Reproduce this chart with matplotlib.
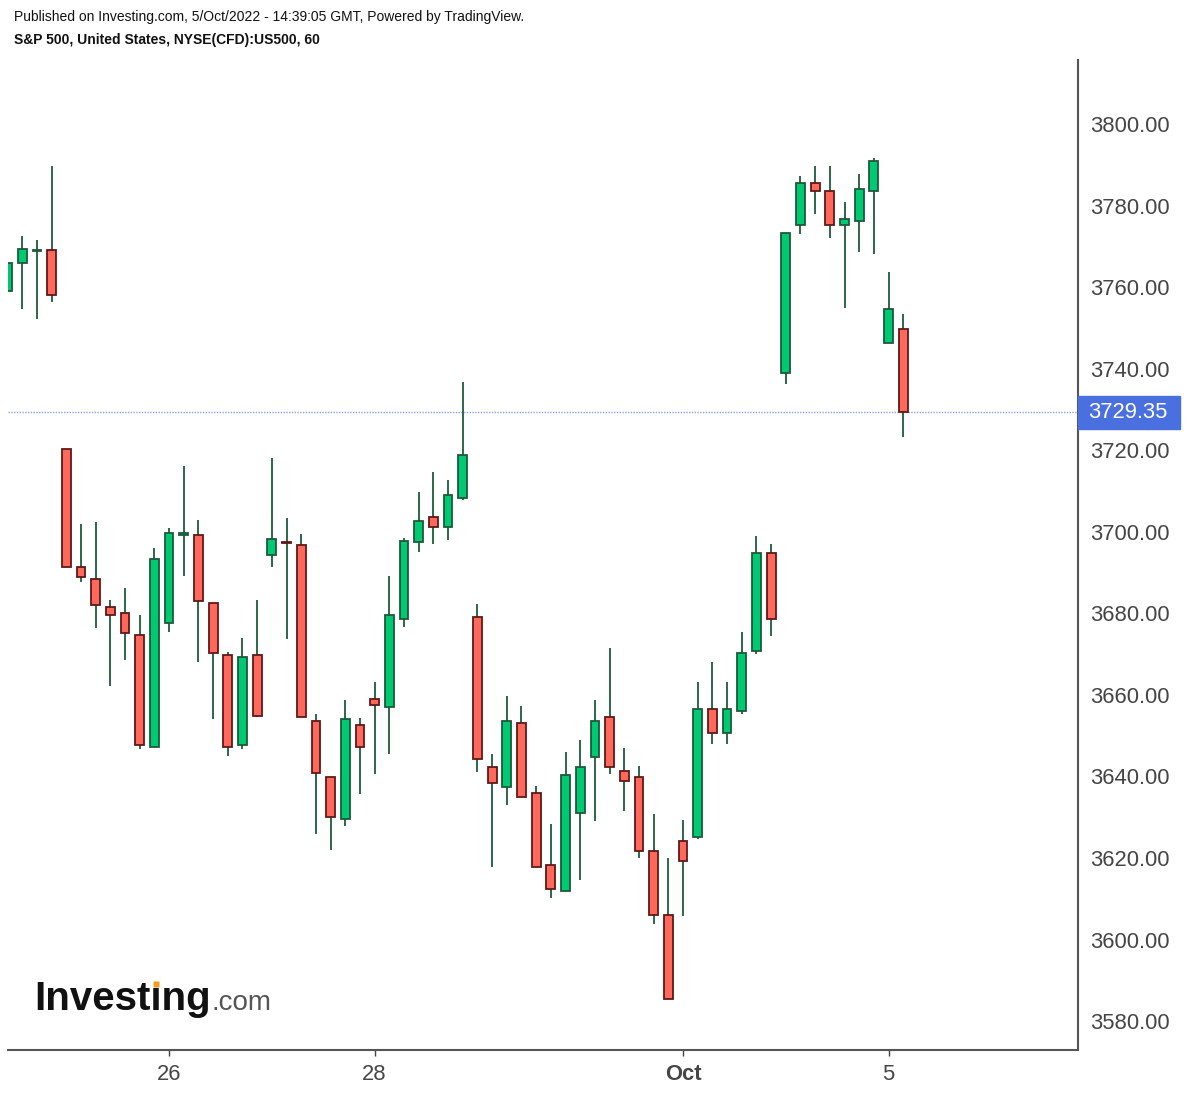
import numpy as np
import matplotlib
matplotlib.use('Agg')
import matplotlib.pyplot as plt
from matplotlib.patches import Rectangle
from matplotlib.lines import Line2D
import matplotlib.transforms as mtransforms

plt.rcParams['font.family'] = ['Liberation Sans', 'DejaVu Sans']

# hourly S&P 500 CFD bars, 22 Sep (last 4 bars) to 5 Oct 2022
opens = [3759.0, 3765.9, 3768.8, 3769.0,
         3720.4, 3691.4, 3688.5, 3681.6, 3680.1, 3674.7, 3647.3,
         3677.7, 3699.3, 3699.2, 3682.5, 3669.8, 3647.7, 3669.8,
         3694.2, 3697.4, 3696.8, 3653.6, 3639.9, 3629.5, 3652.7,
         3659.0, 3657.0, 3678.5, 3697.6, 3703.7, 3701.1, 3708.4,
         3679.2, 3642.4, 3637.4, 3653.2, 3636.0, 3618.3, 3611.9,
         3631.1, 3644.7, 3654.6, 3641.4, 3639.9, 3621.8, 3606.1,
         3624.2, 3625.1, 3656.6, 3650.7, 3656.0, 3670.7, 3694.9,
         3738.9, 3775.2, 3785.6, 3783.6, 3775.2, 3776.1, 3783.5,
         3746.4, 3749.8]
highs = [3766.0, 3772.5, 3771.5, 3789.7,
         3720.4, 3701.9, 3702.4, 3683.2, 3686.1, 3679.7, 3695.9,
         3700.8, 3716.1, 3702.9, 3682.5, 3670.5, 3673.9, 3683.3,
         3718.1, 3703.4, 3699.4, 3655.3, 3639.9, 3658.7, 3654.3,
         3663.1, 3689.1, 3698.5, 3709.7, 3714.6, 3712.7, 3736.7,
         3682.3, 3645.5, 3659.7, 3657.2, 3637.6, 3628.3, 3646.0,
         3648.9, 3658.7, 3671.5, 3646.9, 3642.5, 3630.8, 3620.0,
         3629.3, 3663.1, 3668.0, 3663.1, 3675.4, 3698.9, 3697.0,
         3773.3, 3787.2, 3789.7, 3789.7, 3780.9, 3787.7, 3791.7,
         3763.7, 3753.4]
lows = [3759.0, 3754.6, 3752.1, 3756.4,
        3691.4, 3687.7, 3676.5, 3662.2, 3668.6, 3646.6, 3647.3,
        3675.5, 3689.2, 3668.1, 3654.0, 3645.1, 3646.6, 3654.5,
        3691.3, 3673.6, 3654.6, 3625.9, 3622.0, 3627.9, 3635.7,
        3640.6, 3645.5, 3676.6, 3695.1, 3697.1, 3698.0, 3707.9,
        3641.1, 3617.7, 3632.9, 3635.0, 3617.8, 3610.3, 3611.9,
        3614.7, 3629.0, 3640.7, 3631.4, 3620.0, 3603.9, 3585.5,
        3605.8, 3624.6, 3648.0, 3648.0, 3655.4, 3670.1, 3674.5,
        3736.3, 3773.1, 3778.0, 3772.1, 3754.9, 3768.7, 3768.2,
        3746.4, 3723.2]
closes = [3766.0, 3769.4, 3769.0, 3758.0,
          3691.4, 3688.9, 3682.0, 3679.6, 3675.1, 3647.7, 3693.4,
          3699.8, 3699.6, 3683.0, 3670.3, 3647.3, 3669.3, 3654.9,
          3698.3, 3697.2, 3654.6, 3640.9, 3630.0, 3654.1, 3647.2,
          3657.4, 3679.6, 3697.8, 3702.7, 3701.1, 3709.1, 3718.9,
          3644.2, 3638.5, 3653.6, 3635.0, 3617.8, 3612.5, 3640.4,
          3642.4, 3653.6, 3642.3, 3638.8, 3621.7, 3606.0, 3585.5,
          3619.2, 3656.6, 3650.7, 3656.6, 3670.3, 3694.9, 3678.6,
          3773.3, 3785.6, 3783.5, 3775.2, 3776.8, 3784.1, 3791.0,
          3754.7, 3729.35]

last_price = 3729.35
tick_pos = [11, 25, 46, 60]
tick_labels = ['26', '28', 'Oct', '5']
y_ticks = np.arange(3580, 3801, 20)

up_body, up_edge = '#00c974', '#1c5a3a'
dn_body, dn_edge = '#ff695c', '#5e1a18'
wick_col = '#1c5a3a'

W, H = 1186, 1094
fig = plt.figure(figsize=(W / 100, H / 100), dpi=100)
ax = fig.add_axes([8 / W, 1 - 1050 / H, 1070 / W, 990 / H])

o = np.array(opens); h = np.array(highs); l = np.array(lows); c = np.array(closes)
x = np.arange(len(o))
up = c >= o

ax.vlines(x, l, h, color=wick_col, lw=1.3, zorder=2)
ax.bar(x[up], (c - o)[up], bottom=o[up], width=0.6, color=up_body,
       edgecolor=up_edge, lw=1.3, zorder=3)
ax.bar(x[~up], (o - c)[~up], bottom=c[~up], width=0.6, color=dn_body,
       edgecolor=dn_edge, lw=1.3, zorder=3)

ax.axhline(last_price, color='#8aa0f2', ls=(0, (1, 1)), lw=1.0, zorder=1)

ax.set_xlim(0.03, 72.9)
ax.set_ylim(3572.9, 3815.7)

for s in ['top', 'left']:
    ax.spines[s].set_visible(False)
for s in ['bottom', 'right']:
    ax.spines[s].set_color('#555555')
    ax.spines[s].set_linewidth(1.5)

ax.yaxis.tick_right()
ax.set_yticks(y_ticks)
ax.set_yticklabels(['%.2f' % v for v in y_ticks])
ax.tick_params(axis='y', length=0, pad=9, labelsize=15.8, colors='#454545')
ax.set_xticks(tick_pos)
ax.set_xticklabels(tick_labels)
ax.tick_params(axis='x', length=4, width=1, pad=6, labelsize=15.8,
               colors='#454545')
ax.get_xticklabels()[2].set_fontweight('bold')

# last price tag
trans = mtransforms.blended_transform_factory(ax.transAxes, ax.transData)
ax.add_patch(Rectangle((1.0, last_price - 4.05), 102 / 1070, 8.1,
                       transform=trans, color='#4a70e0', clip_on=False, zorder=5))
ax.text(1.0 + 10 / 1070, last_price, '%.2f' % last_price, transform=trans,
        color='white', fontsize=15.8, va='center', ha='left', zorder=6)

fig.text(14 / W, 1 - 17 / H,
         'Published on Investing.com, 5/Oct/2022 - 14:39:05 GMT, Powered by TradingView.',
         fontsize=10, va='center', color='#111111')
fig.text(14 / W, 1 - 40 / H, 'S&P 500, United States, NYSE(CFD):US500, 60',
         fontsize=10, fontweight='bold', va='center', color='#111111')

# logo: dotless i, orange dot drawn on top
fs_logo = 29
px = fs_logo * 100 / 72
t1 = fig.text(34 / W, 1 - 1010 / H, 'Invest\u0131ng', fontsize=fs_logo,
              fontweight='bold', va='baseline', color='#111111')
fig.canvas.draw()
r = fig.canvas.get_renderer()
bb = t1.get_window_extent(r)
fig.text(bb.x1 / W + 1 / W, 1 - 1010 / H, '.com', fontsize=20, va='baseline',
         color='#555555')
tp = fig.text(34 / W, 0, 'Invest', fontsize=fs_logo, fontweight='bold', alpha=0)
ti = fig.text(34 / W, 0, '\u0131', fontsize=fs_logo, fontweight='bold', alpha=0)
bp = tp.get_window_extent(r)
bi = ti.get_window_extent(r)
dot_x = (bp.x1 + bi.width / 2) / W
dot_y = 1 - (1010 - 0.645 * px) / H
fig.add_artist(Line2D([dot_x], [dot_y], marker='s', ms=4.3,
                      color='#f39c1f', mec='none', transform=fig.transFigure))

fig.savefig('out.png', dpi=100)
